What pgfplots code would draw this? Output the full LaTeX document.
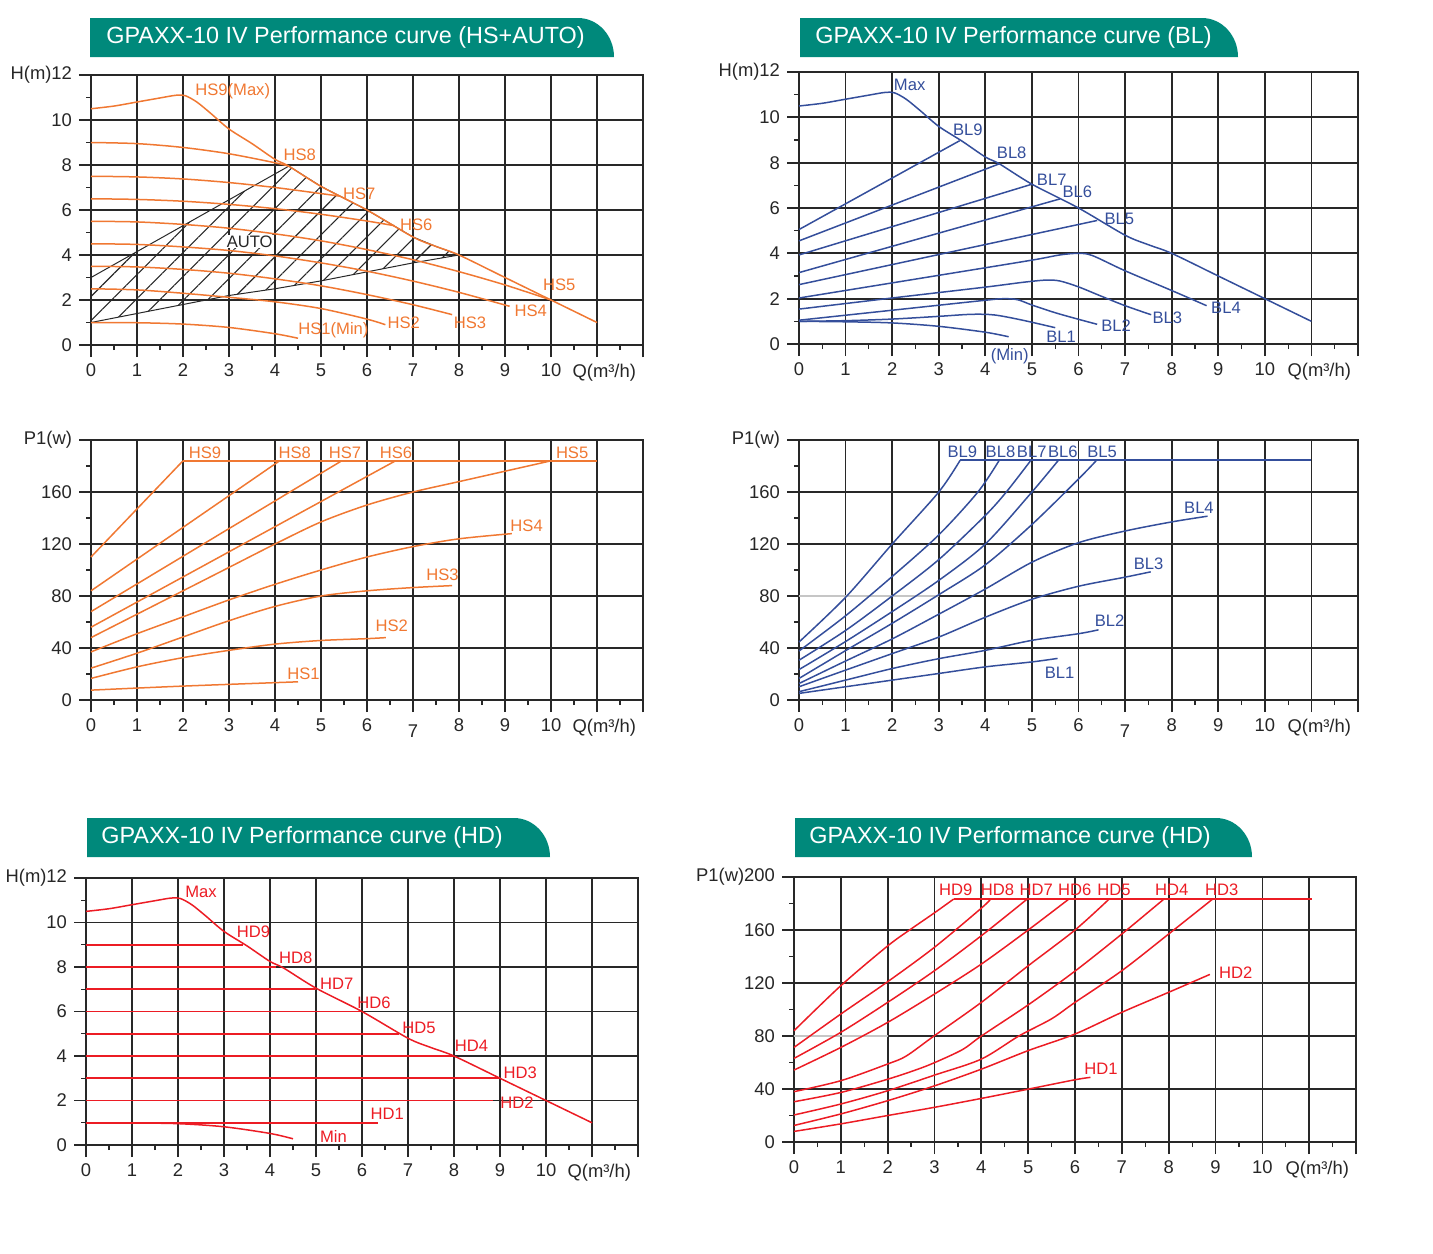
\documentclass[border=0pt]{standalone}
\usepackage{fontspec}
\setmainfont{Liberation Sans}
\usepackage{pgfplots}
\pgfplotsset{compat=1.18}
\usetikzlibrary{patterns.meta}
\definecolor{tealB}{RGB}{0,137,123}
\definecolor{orC}{RGB}{240,120,50}
\definecolor{blC}{RGB}{52,78,155}
\definecolor{rdC}{RGB}{236,28,36}
\definecolor{grC}{RGB}{40,40,40}
\tikzset{
  lab/.style={anchor=west, inner sep=0pt, font=\fontsize{8.3}{9}\selectfont},
  crv/.style={line width=0.75pt, smooth, tension=0.5},
  ln/.style={line width=0.75pt},
}
\pgfplotsset{
  pump/.style={
    scale only axis, anchor=south west, clip=false, no marks,
    xmin=0, xmax=12,
    xtick={0,...,12},
    xticklabels={0,1,2,3,4,5,6,7,8,9,10,{},{}},
    minor x tick num=1, minor y tick num=1,
    tick align=outside, tick pos=left,
    major tick length=6pt, minor tick length=2.5pt,
    xmajorgrids=true, ymajorgrids=true, xminorgrids=false, yminorgrids=false,
    major grid style={line width=0.85pt, draw=grC},
    axis line style={line width=0.85pt, draw=grC},
    major tick style={line width=0.85pt, grC},
    minor tick style={line width=0.6pt, grC},
    tick label style={font=\fontsize{9.2}{10}\selectfont, text=black!85},
    extra x ticks={12},
    extra x tick labels={Q(m³/h)},
    extra x tick style={grid=none, xticklabel style={anchor=north east}},
  },
}
\newcommand\maxcurve{(0,10.5)(0.5,10.62)(1,10.8)(1.5,10.98)(1.85,11.1)(2.05,11.08)(2.3,10.8)(2.6,10.3)(3,9.6)(3.5,8.95)(4,8.25)(4.3,7.95)(5,7.05)(6,6.0)(7,4.8)(7.5,4.38)(8,4.0)(9,3.0)(10,2.0)(11,1.0)}
\newcommand\seven{\raisebox{-3pt}[\height][0pt]{7}}
\begin{document}
\begin{tikzpicture}
\useasboundingbox (0,0) rectangle (716.5pt,-626.5pt);
% banners
\fill[tealB] (45pt,-28.5pt) -- (45pt,-9pt) -- (289pt,-9pt) arc[start angle=90,end angle=0,x radius=18pt,y radius=19.5pt] -- cycle;
\node[anchor=west, text=white, font=\fontsize{11.7}{13}\selectfont, inner sep=0pt] at (53pt,-18.75pt) {GPAXX-10 IV Performance curve (HS+AUTO)};
\fill[tealB] (400pt,-28.5pt) -- (400pt,-9pt) -- (601pt,-9pt) arc[start angle=90,end angle=0,x radius=18pt,y radius=19.5pt] -- cycle;
\node[anchor=west, text=white, font=\fontsize{11.7}{13}\selectfont, inner sep=0pt] at (407.5pt,-18.75pt) {GPAXX-10 IV Performance curve (BL)};
\fill[tealB] (43.5pt,-428.5pt) -- (43.5pt,-409pt) -- (257pt,-409pt) arc[start angle=90,end angle=0,x radius=18pt,y radius=19.5pt] -- cycle;
\node[anchor=west, text=white, font=\fontsize{11.7}{13}\selectfont, inner sep=0pt] at (50.5pt,-418.75pt) {GPAXX-10 IV Performance curve (HD)};
\fill[tealB] (397.5pt,-428.5pt) -- (397.5pt,-409pt) -- (608pt,-409pt) arc[start angle=90,end angle=0,x radius=18pt,y radius=19.5pt] -- cycle;
\node[anchor=west, text=white, font=\fontsize{11.7}{13}\selectfont, inner sep=0pt] at (404.5pt,-418.75pt) {GPAXX-10 IV Performance curve (HD)};

% ---------- Panel A: HS H-Q ----------
\begin{axis}[pump, at={(45.5pt,-172.5pt)}, width=276pt, height=135pt,
  ymin=0, ymax=12, ytick={0,2,...,12}, yticklabels={0,2,4,6,8,10,H(m)12}]
\addplot[draw=grC, line width=0.5pt, pattern={Lines[angle=45,distance=8.5pt,line width=0.55pt]}, pattern color=grC]
  coordinates {(0,1)(1,1.4)(2,1.8)(3,2.2)(4,2.5)(5,2.85)(6,3.25)(7,3.65)(8,4.0)(7.5,4.38)(7,4.8)(6,6.0)(5,7.05)(4.3,7.95)(0,3)(0,1)};
\addplot[orC, crv] coordinates {\maxcurve};
\addplot[orC, crv] coordinates {(0,9.0)(1,8.95)(2,8.78)(3,8.5)(4,8.1)(4.3,7.95)};
\addplot[orC, crv] coordinates {(0,7.5)(1,7.47)(2,7.38)(3,7.22)(4,7.0)(5,6.73)(5.4,6.62)};
\addplot[orC, crv] coordinates {(0,6.5)(1,6.47)(2,6.39)(3,6.25)(4,6.06)(5,5.81)(6,5.51)(6.6,5.3)};
\addplot[orC, crv] coordinates {(0,5.5)(1,5.47)(2,5.36)(3,5.19)(4,4.94)(5,4.63)(6,4.24)(7,3.79)(8,3.26)(9,2.67)(10,2.0)};
\addplot[orC, crv] coordinates {(0,4.5)(1,4.47)(2,4.36)(3,4.2)(4,3.96)(5,3.65)(6,3.28)(7,2.84)(8,2.34)(9.1,1.72)};
\addplot[orC, crv] coordinates {(0,3.5)(1,3.47)(2,3.36)(3,3.19)(4,2.94)(5,2.63)(6,2.24)(7,1.79)(7.85,1.35)};
\addplot[orC, crv] coordinates {(0,2.5)(1,2.45)(2,2.3)(3,2.12)(4,1.92)(5,1.62)(6,1.15)(6.4,0.9)};
\addplot[orC, crv] coordinates {(0,1.0)(1,0.99)(2,0.93)(3,0.78)(4,0.5)(4.5,0.3)};
\node[lab, orC] at (axis cs:2.26,11.26) {HS9(Max)};
\node[lab, orC] at (axis cs:4.18,8.45) {HS8};
\node[lab, orC] at (axis cs:5.47,6.73) {HS7};
\node[lab, orC] at (axis cs:6.71,5.35) {HS6};
\node[lab, orC] at (axis cs:9.82,2.69) {HS5};
\node[lab, orC] at (axis cs:9.2,1.54) {HS4};
\node[lab, orC] at (axis cs:7.88,0.97) {HS3};
\node[lab, orC] at (axis cs:6.44,0.97) {HS2};
\node[lab, orC] at (axis cs:4.5,0.64) {HS1(Min)};
\node[font=\fontsize{8.3}{9}\selectfont, fill=white, inner sep=0.5pt, text=black!85] at (axis cs:3.45,4.6) {AUTO};
\end{axis}

% ---------- Panel B: BL H-Q ----------
\begin{axis}[pump, at={(399.5pt,-172pt)}, width=279.5pt, height=136pt,
  ymin=0, ymax=12, ytick={0,2,...,12}, yticklabels={0,2,4,6,8,10,H(m)12}]
\addplot[blC, crv] coordinates {\maxcurve};
\addplot[blC, ln] coordinates {(0,5.05)(3.45,8.97)};
\addplot[blC, ln] coordinates {(0,4.55)(4.3,7.95)};
\addplot[blC, ln] coordinates {(0,3.93)(5.0,7.05)};
\addplot[blC, ln] coordinates {(0,3.15)(5.6,6.4)};
\addplot[blC, ln] coordinates {(0,2.62)(6.4,5.45)};
\addplot[blC, crv] coordinates {(0,2.03)(3,3.03)(5,3.7)(5.6,3.93)(6,4.0)(6.3,3.9)(7,3.23)(8,2.36)(8.75,1.69)};
\addplot[blC, crv] coordinates {(0,1.54)(2,2.03)(4,2.51)(4.8,2.72)(5.3,2.82)(5.6,2.78)(6,2.52)(6.5,2.1)(7,1.69)(7.56,1.29)};
\addplot[blC, crv] coordinates {(0,1.05)(2,1.49)(4,1.93)(4.4,2.0)(4.7,1.95)(5,1.72)(5.5,1.38)(6,1.09)(6.4,0.87)};
\addplot[blC, crv] coordinates {(0,1.0)(1,1.03)(2,1.1)(3,1.22)(3.7,1.31)(4.2,1.28)(4.8,1.05)(5.5,0.72)};
\addplot[blC, crv] coordinates {(0,1.0)(1,0.98)(2,0.93)(3,0.78)(4,0.52)(4.5,0.32)};
\node[lab, blC] at (axis cs:2.03,11.45) {Max};
\node[lab, blC] at (axis cs:3.3,9.46) {BL9};
\node[lab, blC] at (axis cs:4.24,8.45) {BL8};
\node[lab, blC] at (axis cs:5.1,7.26) {BL7};
\node[lab, blC] at (axis cs:5.65,6.73) {BL6};
\node[lab, blC] at (axis cs:6.55,5.53) {BL5};
\node[lab, blC] at (axis cs:8.84,1.58) {BL4};
\node[lab, blC] at (axis cs:7.58,1.14) {BL3};
\node[lab, blC] at (axis cs:6.48,0.79) {BL2};
\node[lab, blC] at (axis cs:5.3,0.34) {BL1};
\node[lab, blC] at (axis cs:4.11,-0.55) {(Min)};
\end{axis}

% ---------- Panel C: HS P-Q ----------
\begin{axis}[pump, at={(45.5pt,-350pt)}, width=276pt, height=130pt,
  xticklabels={0,1,2,3,4,5,6,\seven,8,9,10,{},{}},
  ymin=0, ymax=200, ytick={0,40,...,200}, yticklabels={0,40,80,120,160,P1(w)}]
\addplot[orC, ln] coordinates {(2,184)(11,184)};
\addplot[orC, ln] coordinates {(0,110)(2,184)};
\addplot[orC, ln] coordinates {(0,84)(4.1,184)};
\addplot[orC, ln] coordinates {(0,68)(5.45,184)};
\addplot[orC, ln] coordinates {(0,56)(6.62,184)};
\addplot[orC, crv] coordinates {(0,48)(1,66)(2,84)(3,102)(4,120)(5,137)(6,150)(7,160)(8,168)(9,176)(10,184)};
\addplot[orC, crv] coordinates {(0,37)(1,51)(2,64)(3,77)(4,89)(5,100)(6,110)(7,118)(8,124)(9.15,128)};
\addplot[orC, crv] coordinates {(0,24.5)(1,36)(2,48.5)(3,61)(4,72)(5,80)(6,84)(7,86.5)(7.85,88)};
\addplot[orC, crv] coordinates {(0,16.6)(1,25.5)(2,32.6)(3,38.2)(4,43)(5,45.8)(6,47.2)(6.41,48)};
\addplot[orC, crv] coordinates {(0,7.6)(2,10.7)(4.5,14)};
\node[lab, orC] at (axis cs:2.12,190) {HS9};
\node[lab, orC] at (axis cs:4.07,190) {HS8};
\node[lab, orC] at (axis cs:5.16,190) {HS7};
\node[lab, orC] at (axis cs:6.27,190) {HS6};
\node[lab, orC] at (axis cs:10.1,190) {HS5};
\node[lab, orC] at (axis cs:9.11,133.8) {HS4};
\node[lab, orC] at (axis cs:7.28,96.3) {HS3};
\node[lab, orC] at (axis cs:6.18,57.3) {HS2};
\node[lab, orC] at (axis cs:4.26,20.4) {HS1};
\end{axis}

% ---------- Panel D: BL P-Q ----------
\begin{axis}[pump, at={(399.5pt,-350pt)}, width=279.5pt, height=130pt,
  xticklabels={0,1,2,3,4,5,6,\seven,8,9,10,{},{}},
  ymin=0, ymax=200, ytick={0,40,...,200}, yticklabels={0,40,80,120,160,P1(w)}]
\addplot[gray!45, line width=0.85pt] coordinates {(0,80)(3,80)};
\addplot[blC, ln] coordinates {(3.46,184.5)(11,184.5)};
\addplot[blC, crv] coordinates {(0,44.6)(1,79)(2,120)(3,160)(3.46,184.5)};
\addplot[blC, crv] coordinates {(0,37.7)(1,64.8)(2,95)(3,127)(3.84,160)(4.3,184.5)};
\addplot[blC, crv] coordinates {(0,30.6)(1,53.5)(2,80)(3,108)(4,142)(4.45,160)(4.98,184.5)};
\addplot[blC, crv] coordinates {(0,23.4)(1,45)(2,68)(3,92)(4,120)(5,160)(5.57,184.5)};
\addplot[blC, crv] coordinates {(0,16.6)(1,38)(2,59)(3,81)(4,104)(5,135)(6,170)(6.39,184.5)};
\addplot[blC, crv] coordinates {(0,12.7)(1,30)(2,47)(3,66)(4,85.4)(5,106)(6,121)(7,130)(8,137)(8.77,141.4)};
\addplot[blC, crv] coordinates {(0,10.2)(1,23)(2,35.7)(3,48.4)(4,63.7)(5,77.5)(6,87.5)(7,94.5)(7.55,98.6)};
\addplot[blC, crv] coordinates {(0,6.4)(1,15.3)(2,24.2)(3,31.8)(4,38.2)(5,45.9)(6,51)(6.43,54)};
\addplot[blC, crv] coordinates {(0,5.1)(1,10.2)(2,15.3)(3,20.4)(4,25.5)(5,29.3)(5.55,32)};
\node[lab, blC] at (axis cs:3.18,191) {BL9};
\node[lab, blC] at (axis cs:4.0,191) {BL8};
\node[lab, blC] at (axis cs:4.67,191) {BL7};
\node[lab, blC] at (axis cs:5.34,191) {BL6};
\node[lab, blC] at (axis cs:6.18,191) {BL5};
\node[lab, blC] at (axis cs:8.26,148) {BL4};
\node[lab, blC] at (axis cs:7.18,105) {BL3};
\node[lab, blC] at (axis cs:6.34,61) {BL2};
\node[lab, blC] at (axis cs:5.27,20.9) {BL1};
\end{axis}

% ---------- Panel E: HD H-Q ----------
\begin{axis}[pump, at={(43pt,-572.5pt)}, width=276pt, height=133.5pt,
  ymin=0, ymax=12, ytick={0,2,...,12}, yticklabels={0,2,4,6,8,10,H(m)12}]
\addplot[rdC, crv] coordinates {\maxcurve};
\addplot[rdC, ln, line width=0.9pt] coordinates {(0,9)(3.42,9)};
\addplot[rdC, ln, line width=0.9pt] coordinates {(0,8)(4.12,8)};
\addplot[rdC, ln, line width=0.9pt] coordinates {(0,7)(5.0,7)};
\addplot[rdC, ln, line width=0.9pt] coordinates {(0,6)(6.0,6)};
\addplot[rdC, ln, line width=0.9pt] coordinates {(0,5)(6.8,5)};
\addplot[rdC, ln, line width=0.9pt] coordinates {(0,4)(8,4)};
\addplot[rdC, ln, line width=0.9pt] coordinates {(0,3)(9,3)};
\addplot[rdC, ln, line width=0.9pt] coordinates {(0,2)(8.85,2)};
\addplot[rdC, ln, line width=0.9pt] coordinates {(0,1)(6.35,1)};
\addplot[rdC, crv] coordinates {(0,1.0)(1,0.99)(2,0.96)(3,0.82)(4,0.52)(4.5,0.28)};
\node[lab, rdC] at (axis cs:2.15,11.4) {Max};
\node[lab, rdC] at (axis cs:3.27,9.58) {HD9};
\node[lab, rdC] at (axis cs:4.19,8.41) {HD8};
\node[lab, rdC] at (axis cs:5.08,7.26) {HD7};
\node[lab, rdC] at (axis cs:5.89,6.39) {HD6};
\node[lab, rdC] at (axis cs:6.87,5.28) {HD5};
\node[lab, rdC] at (axis cs:8.01,4.45) {HD4};
\node[lab, rdC] at (axis cs:9.07,3.26) {HD3};
\node[lab, rdC] at (axis cs:9.0,1.92) {HD2};
\node[lab, rdC] at (axis cs:6.18,1.39) {HD1};
\node[lab, rdC] at (axis cs:5.08,0.4) {Min};
\end{axis}

% ---------- Panel F: HD P-Q ----------
\begin{axis}[pump, at={(397pt,-571pt)}, width=281pt, height=132.5pt,
  ymin=0, ymax=200, ytick={0,40,...,200}, yticklabels={0,40,80,120,160,P1(w)200}]
\addplot[gray!45, line width=0.85pt] coordinates {(0,80)(2,80)};
\addplot[rdC, ln] coordinates {(3.41,183.4)(11.05,183.4)};
\addplot[rdC, crv] coordinates {(0,84)(1,118)(2,148)(2.5,160.8)(3,173)(3.41,183.4)};
\addplot[rdC, crv] coordinates {(0,71.4)(1,96.6)(2,121)(3,147)(4,176.5)(4.2,183.4)};
\addplot[rdC, crv] coordinates {(0,63.1)(1,82.8)(2,105.4)(3,129.3)(4,155.7)(4.98,183.4)};
\addplot[rdC, crv] coordinates {(0,54.3)(1,71.4)(2,90.3)(3,111.7)(4,134.3)(5,160)(5.87,183.4)};
\addplot[rdC, crv] coordinates {(0,38)(1,46.3)(2,58.9)(2.4,65)(3,80.3)(4,105.4)(5,133)(6,160)(6.73,183.4)};
\addplot[rdC, crv] coordinates {(0,30.4)(1,37.4)(2,47.4)(2.6,54.4)(3,59.9)(3.6,69.8)(4,80)(5,103.5)(6,129)(7,157)(7.9,183.4)};
\addplot[rdC, crv] coordinates {(0,20.4)(1,28.7)(2,38.7)(3,50.5)(4,62.6)(4.8,80)(5.5,93)(6,105.4)(7,129.3)(8,157)(8.94,183.4)};
\addplot[rdC, crv] coordinates {(0,12.5)(1,21.2)(2,31.2)(3,42.4)(4,55)(5,69)(6,81.5)(7,97.9)(8,113)(8.88,126.5)};
\addplot[rdC, crv] coordinates {(0,8)(1,13.7)(2,20)(3,26.2)(4,32.9)(5,39.9)(6,47)(6.33,48.8)};
\node[lab, rdC] at (axis cs:3.09,190) {HD9};
\node[lab, rdC] at (axis cs:3.98,190) {HD8};
\node[lab, rdC] at (axis cs:4.81,190) {HD7};
\node[lab, rdC] at (axis cs:5.63,190) {HD6};
\node[lab, rdC] at (axis cs:6.47,190) {HD5};
\node[lab, rdC] at (axis cs:7.7,190) {HD4};
\node[lab, rdC] at (axis cs:8.77,190) {HD3};
\node[lab, rdC] at (axis cs:9.07,127.7) {HD2};
\node[lab, rdC] at (axis cs:6.19,55.4) {HD1};
\end{axis}
\end{tikzpicture}
\end{document}
